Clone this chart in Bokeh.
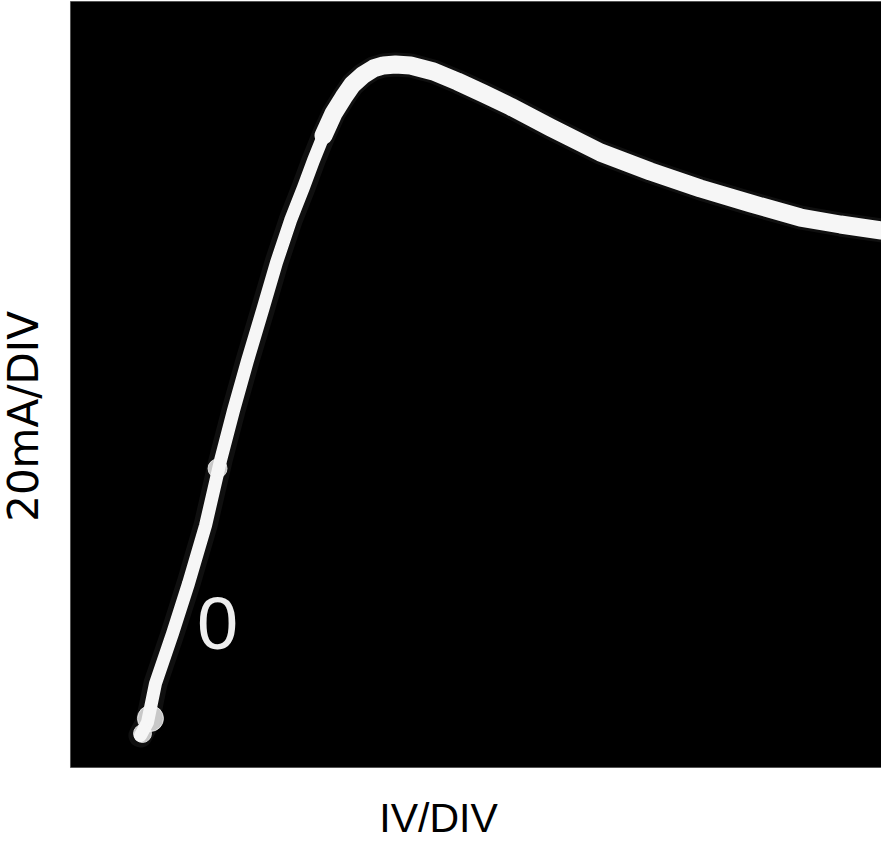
from bokeh.plotting import figure
from bokeh.models import ColumnDataSource, Range1d
from bokeh.core.properties import value
from bokeh.embed import file_html
from bokeh.resources import INLINE

# Trace: voltage (V, 1 V/div) vs current (mA, 20 mA/div)
volts = [0.863, 0.949, 1.048, 1.258, 1.455, 1.665, 1.850, 2.010, 2.183, 2.367,
         2.540, 2.713, 2.873, 2.996, 3.120, 3.243, 3.366, 3.477, 3.600, 3.736,
         3.859, 4.007, 4.192, 4.476, 4.772, 5.092, 5.425, 5.919, 6.535, 7.152,
         7.768, 8.385, 9.001, 9.494, 10.0]
current_ma = [6.68, 9.40, 17.55, 27.99, 38.43, 50.55, 64.13, 74.57, 85.01, 95.46,
              105.48, 114.26, 121.15, 126.79, 132.01, 136.61, 139.95, 142.67, 144.55, 146.01,
              146.64, 146.84, 146.64, 145.38, 143.29, 140.79, 138.07, 133.68, 128.46, 124.49,
              120.94, 117.81, 114.88, 113.42, 112.17]

# oscilloscope screen extent (10 div x 8 div)
screen_v = [0, 10]
screen_ma = [0, 160]

# bright spots on the trace
spot_v = [1.813, 0.986, 0.888]
spot_ma = [62.45, 10.24, 7.10]
spot_size = [19, 26, 18]

# origin marker
origin_text = ["0"]
origin_v = [1.813]
origin_ma = [30.08]

x_label = ["IV/DIV"]
y_label = ["20mA/DIV"]

p = figure(width=881, height=842,
           x_range=Range1d(-0.8631, 10.0), y_range=Range1d(-15.666, 160.209),
           output_backend="svg", toolbar_location=None,
           min_border_left=0, min_border_right=0, min_border_top=0, min_border_bottom=0)
p.xaxis.visible = False
p.yaxis.visible = False
p.grid.visible = False
p.outline_line_color = None
p.background_fill_color = "white"
p.border_fill_color = "white"

# the screen
p.quad(left=[screen_v[0]], right=[screen_v[1]], bottom=[screen_ma[0]], top=[screen_ma[1]],
       fill_color="black", line_color="#555555", line_width=1)

src = ColumnDataSource(dict(x=volts, y=current_ma))
# faint glow
p.line("x", "y", source=src, line_width=24, line_color="white", line_alpha=0.06,
       line_join="round", line_cap="round")
p.line("x", "y", source=src, line_width=13, line_color="#f6f6f6",
       line_join="round", line_cap="round")
upper = ColumnDataSource(dict(x=volts[14:], y=current_ma[14:]))
p.line("x", "y", source=upper, line_width=18, line_color="#f6f6f6",
       line_join="round", line_cap="round")

p.scatter(spot_v, spot_ma, size=spot_size, color="#f6f6f6", alpha=0.8)

p.text(origin_v, origin_ma, text=origin_text, text_color="#eeeeee",
       text_font=value("Liberation Sans"), text_font_size="74px",
       text_align="center", text_baseline="middle")

# axis captions
p.text([4.538], [-10.65], text=x_label, text_color="black",
       text_font=value("Liberation Sans"), text_font_size="41px",
       text_align="center", text_baseline="alphabetic")
p.text([-0.5795], [73.32], text=y_label, text_color="black", angle=1.5708,
       text_font=value("DejaVu Sans"), text_font_size="42px",
       text_align="center", text_baseline="alphabetic")

open("out.html", "w").write(file_html(p, INLINE))
